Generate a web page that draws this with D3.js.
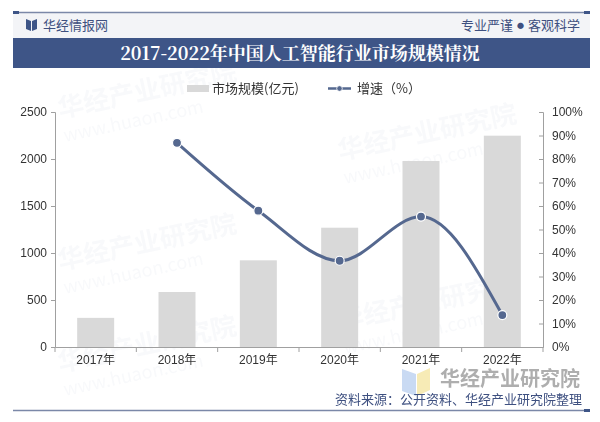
<!DOCTYPE html>
<html><head><meta charset="utf-8">
<script src="https://cdn.jsdelivr.net/npm/d3@7"></script>
<style>
html,body{margin:0;padding:0;background:#fff;}
svg{display:block;font-family:"Noto Sans CJK SC","Liberation Sans",Arial,sans-serif;}
</style></head>
<body><svg id="c" width="600" height="422"></svg>
<script>
const categories = ["2017年","2018年","2019年","2020年","2021年","2022年"];
const marketSize = [310, 585, 922, 1269, 1979, 2248];
const growth = [null, 86.9, 58.0, 36.7, 55.5, 13.6];
const leftTicks = [0, 500, 1000, 1500, 2000, 2500];
const rightTicks = [0,10,20,30,40,50,60,70,80,90,100];
const titleText = "2017-2022年中国人工智能行业市场规模情况";
const legendLabels = ["市场规模(亿元)", "增速（%）"];

const svg = d3.select("#c");
const navy = "#3e5587";
const latinFirst = "'Liberation Sans','Noto Sans CJK SC',sans-serif";

// watermarks (faint)
const wm = svg.append("g").attr("opacity", 0.045).attr("fill", "#6a7fa8")
  .attr("font-size", 26).attr("font-weight", "bold");
[[20,118],[300,160],[20,270],[300,330],[20,372]].forEach(([x,y])=>{
  wm.append("text").attr("x",x+40).attr("y",y).attr("transform",`rotate(-12,${x+40},${y})`).text("华经产业研究院");
  wm.append("text").attr("x",x+45).attr("y",y+24).attr("font-size",18).attr("font-weight","normal")
    .attr("transform",`rotate(-12,${x+45},${y+24})`).text("www.huaon.com");
});

// header
svg.append("rect").attr("x",13).attr("y",12).attr("width",577).attr("height",26).attr("fill","#f3f4f7");
svg.append("line").attr("x1",13).attr("x2",590).attr("y1",12.5).attr("y2",12.5).attr("stroke","#7b88a8").attr("stroke-width",1.5);
svg.append("rect").attr("x",13).attr("y",11).attr("width",6).attr("height",3).attr("fill","#3e5587");
svg.append("rect").attr("x",584).attr("y",11).attr("width",6).attr("height",3).attr("fill","#3e5587");
// logo
svg.append("path").attr("d","M26,19 L31,21 L31,31 L26,29 Z M32,21 L37,19 L37,29 L32,31 Z").attr("fill",navy);
svg.append("text").attr("x",43).attr("y",30).attr("font-size",13).attr("fill","#3e5080").text("华经情报网");
const hr = svg.append("text").attr("x",580).attr("y",30).attr("text-anchor","end").attr("font-size",13).attr("fill","#3e5080");
hr.append("tspan").text("专业严谨");
hr.append("tspan").attr("font-size",7).attr("dx",4).attr("dy",-2.5).text("●");
hr.append("tspan").attr("dx",4).attr("dy",2.5).text("客观科学");

// title bar
svg.append("rect").attr("x",13).attr("y",38).attr("width",577).attr("height",30).attr("fill",navy);
svg.append("text").attr("x",300).attr("y",60).attr("text-anchor","middle").attr("font-size",18)
  .attr("font-weight","bold").attr("fill","#fff").attr("font-family","'Noto Serif CJK SC','Noto Sans CJK SC',serif").text(titleText);

// scales
const xb = d3.scaleBand().domain(categories).range([55,543]);
const yL = d3.scaleLinear().domain([0,2500]).range([347,112]);
const yR = d3.scaleLinear().domain([0,100]).range([347,112]);

// bars
svg.append("g").selectAll("rect").data(marketSize).join("rect")
  .attr("x",(d,i)=>xb(categories[i]) + xb.bandwidth()/2 - 18.5)
  .attr("width",37)
  .attr("y",d=>yL(d)).attr("height",d=>yL(0)-yL(d)).attr("fill","#d9d9d9");

// axes
const axColor = "#a0a0a0";
const gl = svg.append("g").attr("transform","translate(55,0)")
  .call(d3.axisLeft(yL).tickValues(leftTicks).tickSize(4).tickPadding(4).tickFormat(d3.format("d")));
const gr = svg.append("g").attr("transform","translate(543,0)")
  .call(d3.axisRight(yR).tickValues(rightTicks).tickSize(-4).tickPadding(9).tickFormat(d=>d+"%"));
const gx = svg.append("g").attr("transform","translate(0,347)")
  .call(d3.axisBottom(xb).tickSize(0).tickPadding(8));
// boundary ticks on x axis
svg.append("g").selectAll("line").data(d3.range(categories.length+1)).join("line")
  .attr("x1",i=>55+i*xb.step()).attr("x2",i=>55+i*xb.step()).attr("y1",347).attr("y2",352)
  .attr("stroke",axColor);
[gl,gr,gx].forEach(g=>{
  g.select(".domain").attr("stroke",axColor);
  g.selectAll(".tick line").attr("stroke",axColor);
  g.selectAll("text").attr("font-size",12).attr("fill","#333").attr("font-family",latinFirst);
});

// line
const pts = growth.map((g,i)=>({g,i})).filter(d=>d.g!==null);
const lineGen = d3.line().x(d=>xb(categories[d.i])+xb.bandwidth()/2).y(d=>yR(d.g)).curve(d3.curveMonotoneX);
svg.append("path").datum(pts).attr("d",lineGen).attr("fill","none").attr("stroke","#55688f").attr("stroke-width",3);
svg.append("g").selectAll("circle").data(pts).join("circle")
  .attr("cx",d=>xb(categories[d.i])+xb.bandwidth()/2).attr("cy",d=>yR(d.g)).attr("r",4.5)
  .attr("fill","#55688f").attr("stroke","#fff").attr("stroke-width",1.2);

// legend
const lg = svg.append("g");
lg.append("rect").attr("x",187).attr("y",85).attr("width",22).attr("height",7).attr("fill","#d9d9d9");
lg.append("text").attr("x",212).attr("y",93).attr("font-size",13).attr("fill","#333").text(legendLabels[0]);
lg.append("line").attr("x1",328).attr("x2",351).attr("y1",88.5).attr("y2",88.5).attr("stroke","#55688f").attr("stroke-width",2.5);
lg.append("circle").attr("cx",339.5).attr("cy",88.5).attr("r",2.8).attr("fill","#55688f").attr("stroke","#fff").attr("stroke-width",0.8);
lg.append("text").attr("x",357).attr("y",93).attr("font-size",13).attr("fill","#333").text(legendLabels[1]);

// bottom watermark
const bw = svg.append("g");
bw.append("path").attr("d","M402,369 L416,374 L416,396 L402,391 Z").attr("fill","#c9daf3");
bw.append("path").attr("d","M417,374 L430,368 L430,390 L417,396 Z").attr("fill","#f7ebb6");
bw.append("text").attr("x",580).attr("y",386).attr("text-anchor","end").attr("font-size",20).attr("font-weight","bold")
  .attr("font-family",latinFirst).attr("fill","#a6a6a6").attr("opacity",0.9).text("华经产业研究院");

// source
svg.append("text").attr("x",582).attr("y",403.5).attr("text-anchor","end").attr("font-size",13)
  .attr("font-family",latinFirst).attr("fill","#3e5080").text("资料来源：公开资料、华经产业研究院整理");
svg.append("line").attr("x1",13).attr("x2",590).attr("y1",410.5).attr("y2",410.5).attr("stroke","#7b88a8").attr("stroke-width",1.5);
svg.append("rect").attr("x",584).attr("y",409).attr("width",6).attr("height",3).attr("fill","#3e5587");
</script></body></html>
